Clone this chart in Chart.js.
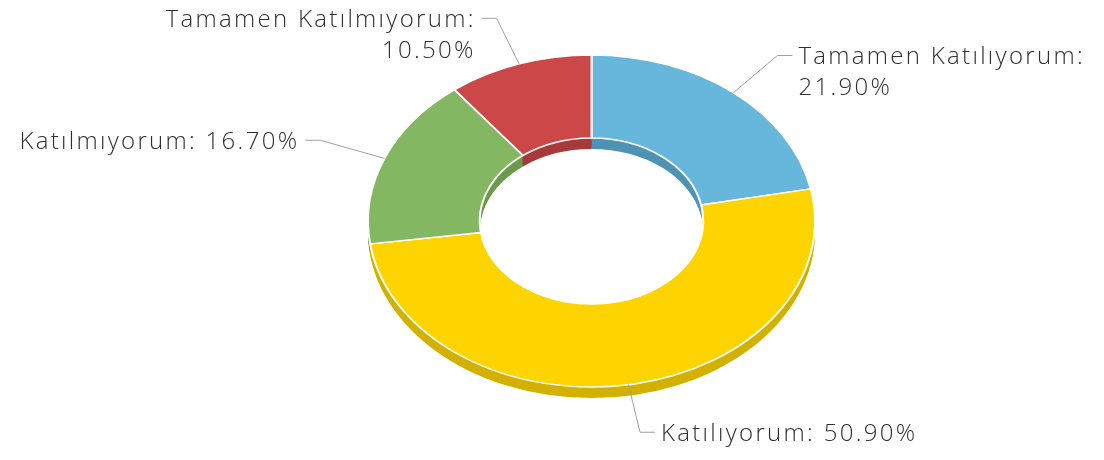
<!DOCTYPE html>
<html>
<head>
<meta charset="utf-8">
<script src="https://cdn.jsdelivr.net/npm/chart.js@4"></script>
<style>
  html, body { margin: 0; padding: 0; background: #fff; }
  #wrap { width: 1104px; height: 460px; position: relative; }
</style>
</head>
<body>
<div id="wrap"><canvas id="chart"></canvas></div>
<script>
var categories = ["Tamamen Katılıyorum", "Katılıyorum", "Katılmıyorum", "Tamamen Katılmıyorum"];
var shares = [21.9, 50.9, 16.7, 10.5];
var sliceColors = ["#67b7dc", "#fdd400", "#84b761", "#cc4748"];
var sideColors = ["#4f93b4", "#d3b100", "#6b9a4d", "#a83a3b"];

var TILT = 0.743;   // squash the ring into an ellipse
var DEPTH = 11;     // thickness of the ring side

function centerY(chart) {
  return (chart.chartArea.top + chart.chartArea.bottom) / 2;
}

function tilt(ctx, chart) {
  var cy = centerY(chart);
  ctx.translate(0, cy);
  ctx.scale(1, TILT);
  ctx.translate(0, -cy);
}

// draw the side walls below the top surface, then tilt the top surface
var ring3d = {
  id: 'ring3d',
  beforeDatasetsDraw: function(chart) {
    var ctx = chart.ctx;
    var arcs = chart.getDatasetMeta(0).data;
    for (var d = DEPTH; d > 0; d--) {
      arcs.forEach(function(arc, i) {
        var p = arc.getProps(['x', 'y', 'startAngle', 'endAngle', 'innerRadius', 'outerRadius']);
        ctx.save();
        ctx.translate(0, d);
        tilt(ctx, chart);
        ctx.beginPath();
        ctx.arc(p.x, p.y, p.outerRadius, p.startAngle, p.endAngle);
        ctx.arc(p.x, p.y, p.innerRadius, p.endAngle, p.startAngle, true);
        ctx.closePath();
        ctx.fillStyle = sideColors[i];
        ctx.fill();
        ctx.restore();
      });
    }
    ctx.save();
    tilt(ctx, chart);
  },
  afterDatasetsDraw: function(chart) {
    chart.ctx.restore();
  }
};

// callout labels with bent connector lines
var calloutLabels = {
  id: 'calloutLabels',
  afterDraw: function(chart) {
    var ctx = chart.ctx;
    var cy = centerY(chart);
    var arcs = chart.getDatasetMeta(0).data;
    ctx.save();
    ctx.font = '300 24px "Open Sans"';
    ctx.letterSpacing = '2.3px';
    ctx.textBaseline = 'middle';
    ctx.fillStyle = '#2f2f2f';
    ctx.strokeStyle = '#a0a0a0';
    ctx.lineWidth = 1;
    arcs.forEach(function(arc, i) {
      var p = arc.getProps(['x', 'y', 'startAngle', 'endAngle', 'outerRadius']);
      var mid = (p.startAngle + p.endAngle) / 2;
      var c = Math.cos(mid), s = Math.sin(mid);
      var x0 = p.x + c * p.outerRadius;
      var y0 = cy + s * p.outerRadius * TILT;
      var x1 = p.x + c * p.outerRadius * 1.31;
      var y1 = cy + s * p.outerRadius * 1.29 * TILT;
      var side = c >= 0 ? 1 : -1;
      var x2 = x1 + side * 15;

      ctx.beginPath();
      ctx.moveTo(x0, y0);
      ctx.lineTo(x1, y1);
      ctx.lineTo(x2, y1);
      ctx.stroke();

      var full = categories[i] + ': ' + shares[i].toFixed(2) + '%';
      var lines = ctx.measureText(full).width > 340
        ? [categories[i] + ':', shares[i].toFixed(2) + '%']
        : [full];
      ctx.textAlign = side > 0 ? 'left' : 'right';
      lines.forEach(function(t, k) {
        ctx.fillText(t, x2 + side * 6, y1 + 2 + k * 31);
      });
    });
    ctx.restore();
  }
};

new Chart('chart', {
  type: 'doughnut',
  data: {
    labels: categories,
    datasets: [{
      data: shares,
      backgroundColor: sliceColors,
      borderColor: '#ffffff',
      borderWidth: 2,
      clip: false
    }]
  },
  options: {
    responsive: true,
    maintainAspectRatio: false,
    animation: false,
    events: [],
    radius: 223.5,
    cutout: '50%',
    layout: { padding: { left: 79, bottom: 18 } },
    plugins: {
      legend: { display: false },
      tooltip: { enabled: false }
    }
  },
  plugins: [ring3d, calloutLabels]
});
</script>
</body>
</html>
